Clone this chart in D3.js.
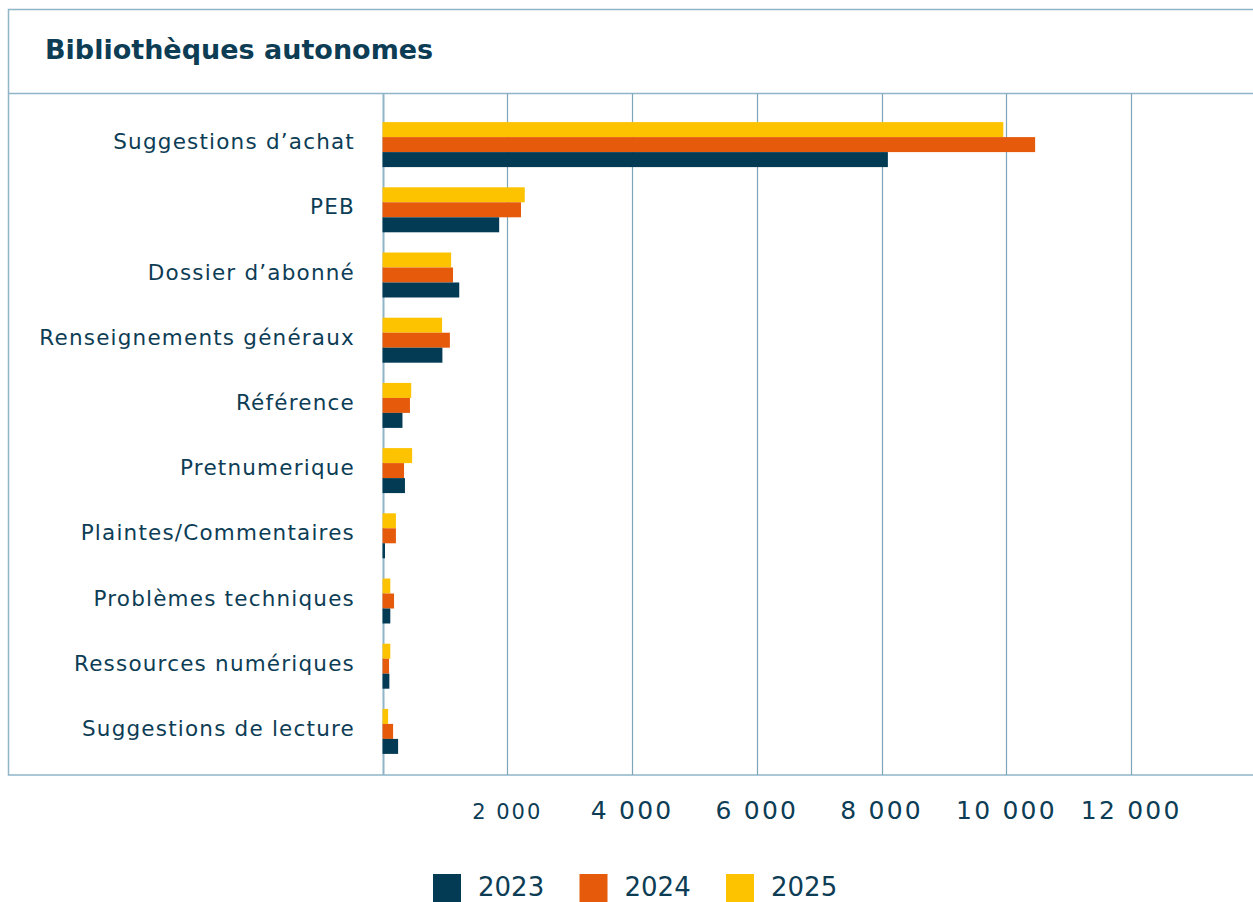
<!DOCTYPE html>
<html>
<head>
<meta charset="utf-8">
<script src="https://cdn.jsdelivr.net/npm/d3@7"></script>
<style>
  body { margin: 0; background: #fff; }
  text { font-family: "DejaVu Sans", "Noto Sans", sans-serif; fill: #0d3d55; }
</style>
</head>
<body>
<div id="chart"></div>
<script>
/* Data */
var categories = ["Suggestions d’achat", "PEB", "Dossier d’abonné", "Renseignements généraux",
    "Référence", "Pretnumerique", "Plaintes/Commentaires", "Problèmes techniques",
    "Ressources numériques", "Suggestions de lecture"];
var years = ["2025", "2024", "2023"];
var values2023 = [8100, 1870, 1230, 960, 320, 360, 40, 125, 110, 250];
var values2024 = [10460, 2220, 1130, 1080, 440, 345, 215, 185, 105, 170];
var values2025 = [9950, 2280, 1100, 955, 460, 475, 215, 125, 125, 90];
var tickValues = [2000, 4000, 6000, 8000, 10000, 12000];
var legendYears = ["2023", "2024", "2025"];

var colors = { "2023": "#033b55", "2024": "#e55a0b", "2025": "#fdc300" };
var seriesByYear = { "2023": values2023, "2024": values2024, "2025": values2025 };

var width = 1253, height = 902;
var frameLeft = 8.5, frameTop = 9.5, titleLine = 93.5, frameBottom = 775;

var svg = d3.select("#chart").append("svg")
    .attr("width", width)
    .attr("height", height);

/* scales */
var x = d3.scaleLinear().domain([0, 14000]).range([382.5, 1256]);
var y0 = d3.scaleBand().domain(categories).range([112, 764]).paddingInner(0.31).paddingOuter(0.155);
var y1 = d3.scaleBand().domain(years).range([0, y0.bandwidth()]);

/* frame */
var frameColor = "#8fb5c7";
svg.append("path")
    .attr("d", "M" + width + "," + frameTop + "H" + frameLeft + "V" + frameBottom + "H" + width)
    .attr("fill", "none")
    .attr("stroke", frameColor)
    .attr("stroke-width", 1.5);
svg.append("line")
    .attr("x1", frameLeft).attr("x2", width)
    .attr("y1", titleLine).attr("y2", titleLine)
    .attr("stroke", frameColor).attr("stroke-width", 1.5);

/* title */
svg.append("text")
    .attr("x", 45).attr("y", 59)
    .style("font-size", "27px")
    .style("font-weight", "bold")
    .text("Bibliothèques autonomes");

/* grid lines */
svg.append("g")
    .selectAll("line")
    .data([0].concat(tickValues))
    .enter().append("line")
    .attr("x1", d => Math.round(x(d)) + 0.5)
    .attr("x2", d => Math.round(x(d)) + 0.5)
    .attr("y1", titleLine)
    .attr("y2", frameBottom)
    .attr("stroke", d => d === 0 ? "#8fb5c7" : "#7ea6ba")
    .attr("stroke-width", d => d === 0 ? 2 : 1.2);

/* bars */
var groups = svg.append("g")
    .selectAll("g")
    .data(categories)
    .enter().append("g")
    .attr("transform", d => "translate(0," + y0(d) + ")");

groups.selectAll("rect")
    .data((d, i) => years.map(yr => ({ year: yr, value: seriesByYear[yr][i] })))
    .enter().append("rect")
    .attr("x", x(0))
    .attr("y", d => y1(d.year))
    .attr("width", d => x(d.value) - x(0))
    .attr("height", y1.bandwidth())
    .attr("fill", d => colors[d.year]);

/* category labels */
svg.append("g")
    .selectAll("text")
    .data(categories)
    .enter().append("text")
    .attr("x", 355)
    .attr("y", d => y0(d) + y0.bandwidth() / 2 + 4.5)
    .attr("text-anchor", "end")
    .style("font-size", "21.5px")
    .style("letter-spacing", "1.2px")
    .text(d => d);

/* x axis tick labels (the first one is printed smaller in the original) */
var fmt = d => d3.format(",")(d).replace(/,/g, " ");
svg.append("g")
    .selectAll("text")
    .data(tickValues)
    .enter().append("text")
    .attr("x", d => x(d))
    .attr("y", 819)
    .attr("text-anchor", "middle")
    .style("font-size", d => d === 2000 ? "21px" : "25px")
    .style("letter-spacing", d => d === 2000 ? "2px" : "2.2px")
    .text(fmt);

/* legend */
var legend = svg.append("g")
    .selectAll("g")
    .data(legendYears)
    .enter().append("g")
    .attr("transform", (d, i) => "translate(" + (433 + i * 146.5) + ",874)");
legend.append("rect")
    .attr("width", 28).attr("height", 28)
    .attr("fill", d => colors[d]);
legend.append("text")
    .attr("x", 45).attr("y", 22)
    .style("font-size", "26px")
    .text(d => d);
</script>
</body>
</html>
